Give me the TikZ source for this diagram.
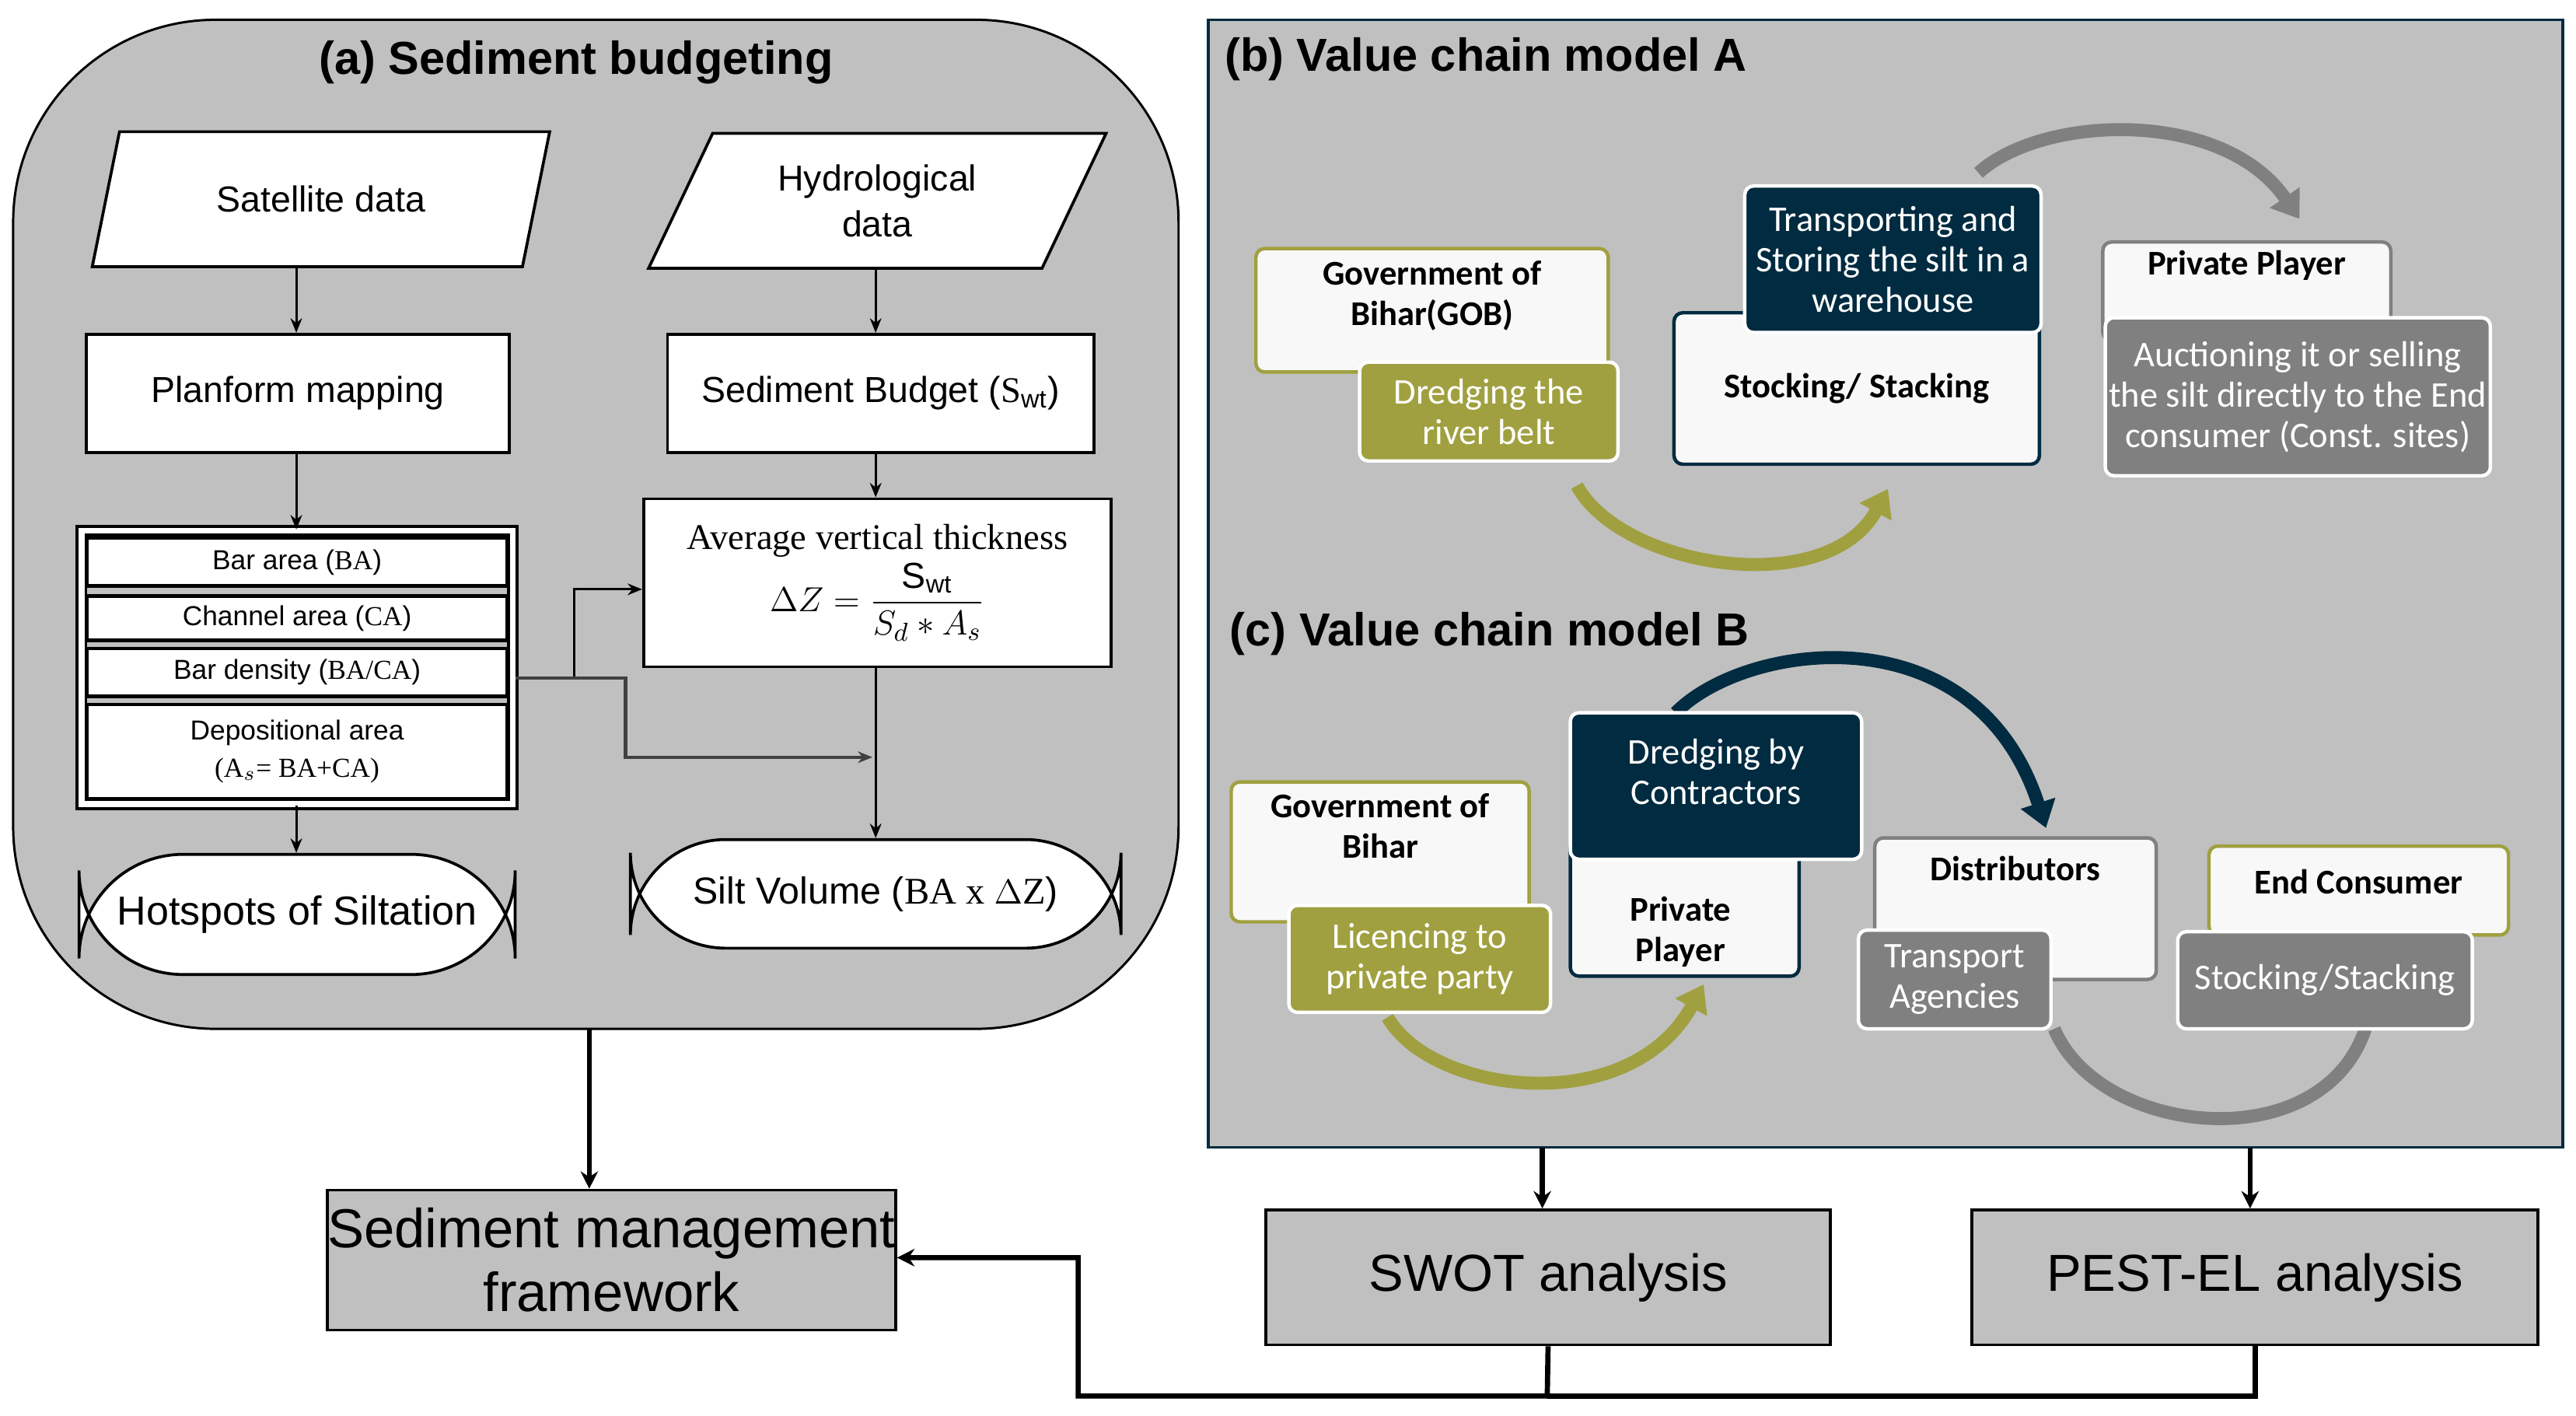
\documentclass[tikz,border=0pt]{standalone}
\usepackage{fontspec}
\setmainfont{Liberation Sans}
\newfontfamily\carl{Carlito}
\newfontfamily\tms{Liberation Serif}
\usetikzlibrary{arrows.meta,shapes.geometric}
\definecolor{pg}{HTML}{C0C0C0}
\definecolor{olv}{HTML}{A0A040}
\definecolor{nav}{HTML}{002B40}
\definecolor{gr}{HTML}{808080}
\definecolor{wh}{HTML}{F8F8F8}
\begin{document}
\begin{tikzpicture}[x=0.02cm,y=-0.02cm,
 box/.style={draw,fill=white,line width=1pt,inner sep=0pt,font=\fontsize{12.5}{15}\selectfont,align=center},
 small/.style={draw,fill=white,line width=1.2pt,inner sep=0pt,font=\fontsize{9.5}{11.5}\selectfont,align=center},
 ar/.style={-{Stealth[length=5pt,width=4pt]},line width=0.8pt},
 big/.style={draw,fill=pg,line width=1pt,inner sep=0pt,font=\fontsize{19}{22}\selectfont,align=center},
 wb/.style={draw=#1,fill=wh,line width=1.2pt,rounded corners=3pt,inner sep=0pt,font=\carl\bfseries\fontsize{12}{14}\selectfont,align=center},
 cb/.style={draw=white,fill=#1,line width=1.2pt,rounded corners=3pt,inner sep=0pt,text=white,font=\carl\fontsize{12.5}{14}\selectfont,align=center},
 arc/.style={line width=4.5pt,draw=#1,-{Triangle[length=9pt,width=12pt]}},
 para/.style={box,trapezium,trapezium left angle=62,trapezium right angle=118,trapezium stretches=true,minimum height=82*0.02cm,minimum width=5.6cm},
 title/.style={font=\bfseries\fontsize{16}{19}\selectfont}]
\useasboundingbox (0,0) rectangle (1565,860);
% panel a
\draw[fill=pg,line width=0.8pt,rounded corners=70pt] (8,12) rectangle (716,625);
\node[title] (ta) at (350,38) {(a) Sediment budgeting};
\node[para] (sat) at (195,121) {Satellite data};
\node[para,font=\fontsize{12.5}{16}\selectfont] (hyd) at (533,122) {Hydrological\\data};
\node[box,minimum width=257*0.02cm,minimum height=72*0.02cm] (plan) at (181,239) {Planform mapping};
\node[box,minimum width=259*0.02cm,minimum height=72*0.02cm] (sed) at (535,239) {Sediment Budget ({\tms S$_{\mathrm{wt}}$})};
\node[draw,line width=1pt,double,double distance=2pt,minimum width=262*0.02cm,minimum height=166*0.02cm,inner sep=0pt] (stk) at (180.5,405.5) {};
\node[small,minimum width=255*0.02cm,minimum height=29*0.02cm] (ba) at (180.5,341.5) {Bar area ({\tms BA})};
\node[small,minimum width=255*0.02cm,minimum height=27*0.02cm] (ca) at (180.5,375.5) {Channel area ({\tms CA})};
\node[small,minimum width=255*0.02cm,minimum height=29*0.02cm] (bd) at (180.5,408.5) {Bar density ({\tms BA/CA})};
\node[small,minimum width=255*0.02cm,minimum height=57*0.02cm,font=\fontsize{9.5}{13}\selectfont] (da) at (180.5,456.5) {Depositional area\\{\tms (A$_s$= BA+CA)}};
\node[box,minimum width=284*0.02cm,minimum height=102*0.02cm,font=\tms\fontsize{12.5}{15}\selectfont] (avg) at (533,354) {Average vertical thickness\\[1pt] $\displaystyle\Delta Z=\frac{\mathrm{S_{wt}}}{S_d * A_s}$};
\node[box,rounded corners=36pt,minimum width=265*0.02cm,minimum height=73*0.02cm,font=\fontsize{14}{16}\selectfont] (hot) at (180.5,555.5) {Hotspots of Siltation};
\node[box,rounded corners=33pt,minimum width=298*0.02cm,minimum height=66*0.02cm,font=\fontsize{13}{16}\selectfont] (silt) at (532,543) {Silt Volume ({\tms BA x $\Delta$Z})};
\draw[ar] (180,162) -- (plan.north -| 180,0);
\draw[ar] (532,163) -- (sed.north -| 532,0);
\draw[ar] (plan.south -| 180,0) -- (stk.north -| 180,0);
\draw[ar] (sed.south -| 532,0) -- (avg.north -| 532,0);
\draw[ar] (stk.south -| 180,0) -- (hot.north -| 180,0);
\draw[ar] (avg.south -| 532,0) -- (silt.north -| 532,0);
\coordinate (j1) at (313,412);
\draw[ar] (j1) -- (349,412) -- (349,358) -- (avg.west |- 0,358);
\draw[ar,line width=1.2pt,draw=black!75] (j1) -- (380,412) -- (380,460) -- (530,460);
% management
\node[big,minimum width=343*0.02cm,minimum height=85*0.02cm] (sm) at (371.5,765.5) {Sediment management\\framework};
\draw[-{Stealth[length=6pt,width=6pt]},line width=1.8pt] (358,625) -- (sm.north -| 358,0);
% right panel
\draw[fill=pg,draw=nav,line width=1pt] (734,12) rectangle (1557,697);
\node[title,anchor=west] (tb) at (738,36) {(b) Value chain model A};
\node[title,anchor=west] (tc) at (741,385) {(c) Value chain model B};
% chain A
\draw[arc=olv] (958,295) .. controls (985,345) and (1110,365) .. (1147,297);
\draw[arc=gr] (1202,105) .. controls (1240,70) and (1350,65) .. (1397,133);
\node[wb=olv,minimum width=214*0.02cm,minimum height=75*0.02cm,text depth=12] (gob) at (870,188.5) {Government of\\Bihar(GOB)};
\node[cb=olv,minimum width=157*0.02cm,minimum height=60*0.02cm] (dr) at (904.5,250) {Dredging the\\river belt};
\node[wb=nav,minimum width=222*0.02cm,minimum height=92*0.02cm] (st) at (1128,236) {Stocking/ Stacking};
\node[cb=nav,minimum width=180*0.02cm,minimum height=89*0.02cm] (tr) at (1150,157.5) {Transporting and\\Storing the silt in a\\warehouse};
\node[wb=gr,minimum width=175*0.02cm,minimum height=60*0.02cm,text depth=20] (pp) at (1365,177) {Private Player};
\node[cb=gr,minimum width=234*0.02cm,minimum height=96*0.02cm] (au) at (1396,241) {Auctioning it or selling\\the silt directly to the End\\consumer (Const. sites)};
% chain B
\draw[arc=olv] (843,618) .. controls (870,665) and (990,680) .. (1035,598);
\draw[arc=nav] (1018,433) .. controls (1060,390) and (1200,370) .. (1243,503);
\draw[line width=4.5pt,draw=gr] (1248,625) .. controls (1275,690) and (1410,705) .. (1437,625);
\node[wb=olv,minimum width=181*0.02cm,minimum height=85*0.02cm,text depth=18] (gob2) at (838.5,517.5) {Government of\\Bihar};
\node[cb=olv,minimum width=159*0.02cm,minimum height=65*0.02cm] (lic) at (862.5,582.5) {Licencing to\\private party};
\node[wb=nav,minimum width=139*0.02cm,minimum height=83*0.02cm] (pp2) at (1023.5,551.5) {};
\node[font=\carl\bfseries\fontsize{12}{14}\selectfont,align=center] (pp2t) at (1021,566) {Private\\Player};
\node[cb=nav,minimum width=177*0.02cm,minimum height=89*0.02cm,text depth=10] (dc) at (1042.5,477.5) {Dredging by\\Contractors};
\node[wb=gr,minimum width=171*0.02cm,minimum height=86*0.02cm,text depth=28] (dis) at (1224.5,552) {Distributors};
\node[cb=gr,minimum width=117*0.02cm,minimum height=60*0.02cm] (ta2) at (1187.5,595) {Transport\\Agencies};
\node[wb=olv,minimum width=182*0.02cm,minimum height=54*0.02cm,text depth=6] (ec) at (1433,541) {End Consumer};
\node[cb=gr,minimum width=179*0.02cm,minimum height=59*0.02cm] (ss) at (1412.5,595.5) {Stocking/Stacking};
% analyses
\node[big,minimum width=343*0.02cm,minimum height=82*0.02cm,font=\fontsize{18}{22}\selectfont] (sw) at (940.5,776) {SWOT analysis};
\node[big,minimum width=344*0.02cm,minimum height=82*0.02cm,font=\fontsize{18}{22}\selectfont] (pe) at (1370,776) {PEST-EL analysis};
\draw[-{Stealth[length=6pt,width=6pt]},line width=1.8pt] (937,697) -- (sw.north -| 937,0);
\draw[-{Stealth[length=6pt,width=6pt]},line width=1.8pt] (1367,697) -- (pe.north -| 1367,0);
\draw[-{Stealth[length=6pt,width=6pt]},line width=1.8pt] (sw.south) -- (940,848) -- (655,848) -- (655,764) -- (sm.east |- 0,764);
\draw[line width=1.8pt] (pe.south) -- (1370,848) -- (940,848);
\end{tikzpicture}
\end{document}
